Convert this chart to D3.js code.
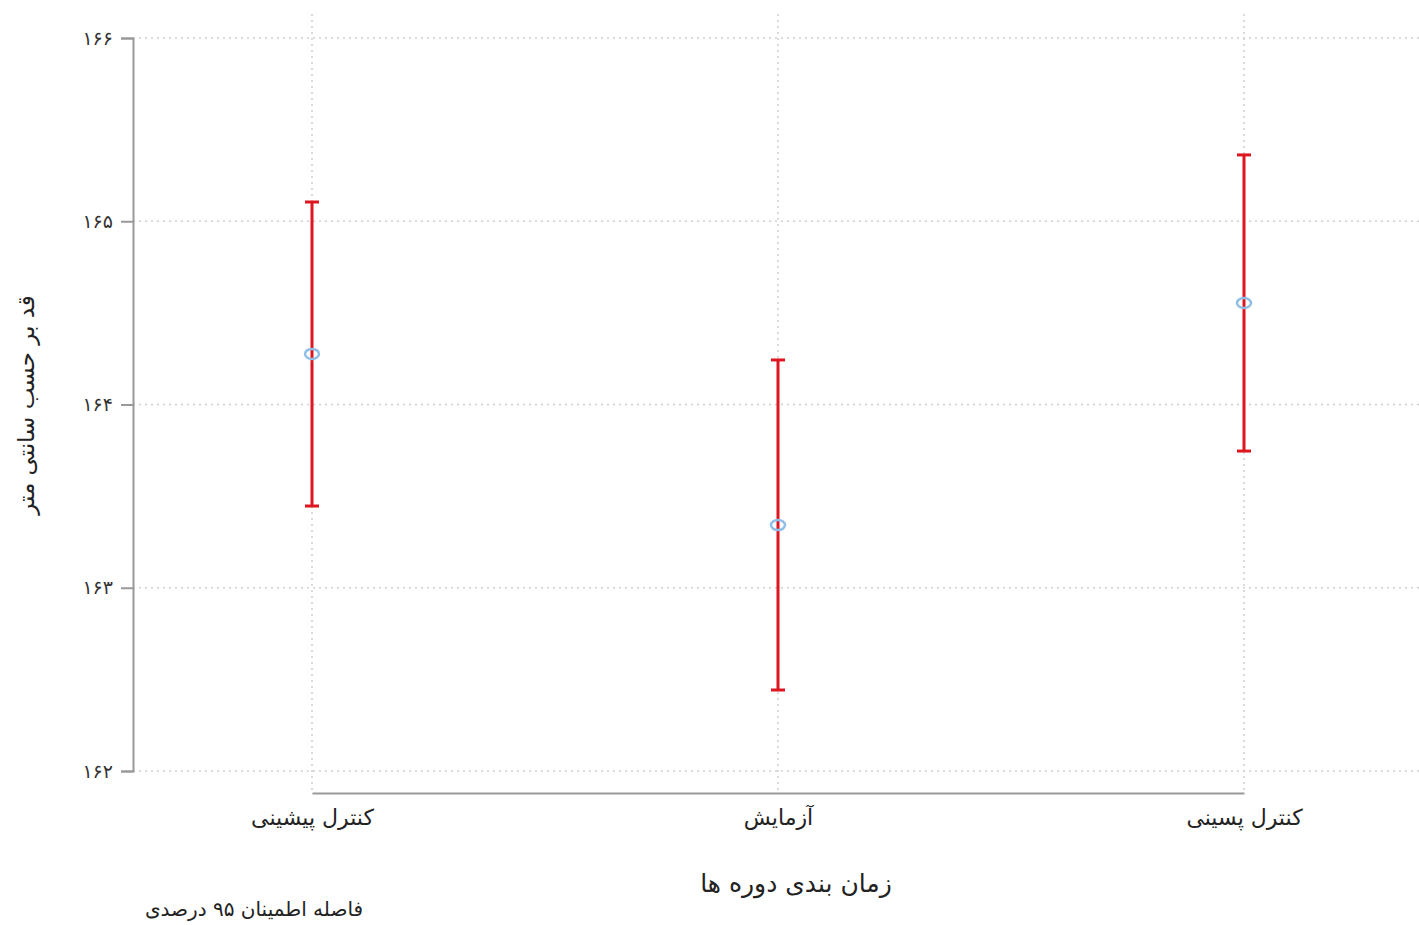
<!DOCTYPE html>
<html lang="fa">
<head>
<meta charset="utf-8">
<script src="https://cdn.jsdelivr.net/npm/d3@7"></script>
<style>
  html, body { margin: 0; padding: 0; background: #fff; }
  svg text { font-family: "DejaVu Sans", "Noto Sans", sans-serif; fill: #222; }
</style>
</head>
<body>
<svg id="chart" width="1419" height="925"></svg>
<script>
// Mean height (cm) with 95% confidence intervals for each period
const categories = ["کنترل پیشینی", "آزمایش", "کنترل پسینی"];
const means = [164.276, 163.342, 164.554];
const lowers = [163.446, 162.442, 163.746];
const uppers = [165.105, 164.243, 165.362];
const yTicks = [162, 163, 164, 165, 166];
const yTickLabels = ["۱۶۲", "۱۶۳", "۱۶۴", "۱۶۵", "۱۶۶"];

const svg = d3.select("#chart");

const x = d3.scalePoint().domain(categories).range([312, 1244]);
const y = d3.scaleLinear().domain([162, 166]).range([771, 38]);

const grid = svg.append("g");
// horizontal dotted gridlines
grid.selectAll("line.h").data(yTicks).join("line")
  .attr("x1", 133).attr("x2", 1419)
  .attr("y1", d => y(d)).attr("y2", d => y(d))
  .attr("stroke", "#d0d0d0").attr("stroke-width", 1.5)
  .attr("stroke-dasharray", "2,4");
// vertical dotted gridlines
grid.selectAll("line.v").data(categories).join("line")
  .attr("x1", d => x(d)).attr("x2", d => x(d))
  .attr("y1", 14).attr("y2", 792)
  .attr("stroke", "#d0d0d0").attr("stroke-width", 1.5)
  .attr("stroke-dasharray", "2,4");

// y axis
const yAxis = svg.append("g").attr("transform", "translate(133,0)")
  .call(d3.axisLeft(y).tickValues(yTicks).tickSize(12).tickPadding(8)
    .tickFormat((d, i) => yTickLabels[i]));
yAxis.select(".domain").attr("stroke", "#999").attr("stroke-width", 2);
yAxis.selectAll(".tick line").attr("stroke", "#999").attr("stroke-width", 2);
yAxis.selectAll(".tick text").attr("font-size", 19).style("fill", "#333")
  .attr("font-family", "DejaVu Sans");

// x axis line (no ticks)
const xAxis = svg.append("g").attr("transform", "translate(0,793)")
  .call(d3.axisBottom(x).tickSize(0).tickPadding(16));
xAxis.select(".domain").attr("stroke", "#999").attr("stroke-width", 2);
xAxis.selectAll(".tick text").attr("font-size", 22).style("fill", "#222")
  .attr("font-family", "DejaVu Sans");

// error bars
const data = categories.map((c, i) => ({ c, m: means[i], lo: lowers[i], hi: uppers[i] }));
const bars = svg.append("g");
const red = "#dd1620";
bars.selectAll("line.bar").data(data).join("line")
  .attr("x1", d => x(d.c)).attr("x2", d => x(d.c))
  .attr("y1", d => y(d.lo)).attr("y2", d => y(d.hi))
  .attr("stroke", red).attr("stroke-width", 3);
bars.selectAll("line.capTop").data(data).join("line")
  .attr("x1", d => x(d.c) - 7).attr("x2", d => x(d.c) + 7)
  .attr("y1", d => y(d.hi)).attr("y2", d => y(d.hi))
  .attr("stroke", red).attr("stroke-width", 3);
bars.selectAll("line.capBot").data(data).join("line")
  .attr("x1", d => x(d.c) - 7).attr("x2", d => x(d.c) + 7)
  .attr("y1", d => y(d.lo)).attr("y2", d => y(d.lo))
  .attr("stroke", red).attr("stroke-width", 3);

// mean markers
svg.append("g").selectAll("ellipse").data(data).join("ellipse")
  .attr("cx", d => x(d.c)).attr("cy", d => y(d.m))
  .attr("rx", 7).attr("ry", 5)
  .attr("fill", "none").attr("stroke", "#8fbfe8").attr("stroke-width", 2.5);

// axis titles
svg.append("text")
  .attr("transform", "translate(34,405) rotate(-90)")
  .attr("text-anchor", "middle").attr("font-size", 23)
  .text("قد بر حسب سانتی متر");

svg.append("text")
  .attr("x", 796).attr("y", 892)
  .attr("text-anchor", "middle").attr("font-size", 25)
  .text("زمان بندی دوره ها");

svg.append("text")
  .attr("x", 254).attr("y", 916)
  .attr("text-anchor", "middle").attr("font-size", 20)
  .text("فاصله اطمینان ۹۵ درصدی");
</script>
</body>
</html>
